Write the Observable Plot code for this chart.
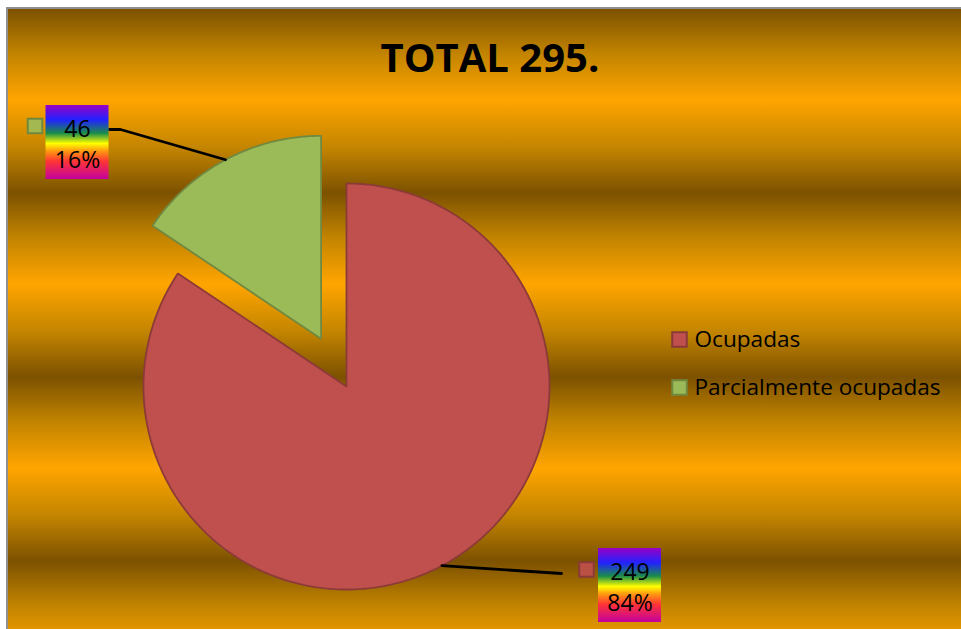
<!DOCTYPE html>
<html>
<head>
<meta charset="utf-8">
<script src="https://cdn.jsdelivr.net/npm/d3@7"></script>
<script src="https://cdn.jsdelivr.net/npm/@observablehq/plot@0.6"></script>
<style>
  html, body { margin: 0; padding: 0; background: #fff; overflow: hidden; }
  #wrap { position: relative; width: 961px; height: 629px; background: #fff; }
  #bg {
    position: absolute; left: 6px; top: 7px; right: 0; bottom: 0;
    border-left: 2px solid #8f8f8f; border-top: 2px solid #8f8f8f;
    background: repeating-linear-gradient(180deg, #7c5100 0px, #c48500 46px, #ffa500 91px, #c48500 138px, #7c5100 184px);
  }
  #chart { position: absolute; left: 0; top: 0; }
</style>
</head>
<body>
<div id="wrap"><div id="bg"></div><div id="chart"></div></div>
<script>
// ---- data ----
const categories = ["Ocupadas", "Parcialmente ocupadas"];
const values = [249, 46];
const percentLabels = ["84%", "16%"];
const titleText = "TOTAL 295.";

// ---- styles / layout (pixel offsets relative to pie centre, y up) ----
const sliceFill = ["#c0504d", "#9bbb59"];
const sliceStroke = ["#8c3a38", "#71893f"];
const radius = 203;
const explode = [0, 54];
const labelCenter = [[283.5, -199], [-269, 244]];
const labelBox = [63, 74];
const leaderExtra = [[[215, -187]], [[-226, 257], [-237, 257]]];
const markerPos = [[240, -183], [-311.5, 260.5]];
const legendKey = [[333, 47], [333, -1]];
const legendTextX = 348;

const pie = d3.pie().sort(null).value(d => d)(values);

const slices = pie.map((p, i) => {
  const mid = (p.startAngle + p.endAngle) / 2;
  const cx = explode[i] * Math.sin(mid), cy = explode[i] * Math.cos(mid);
  const pts = [{x: cx, y: cy}];
  const n = Math.max(8, Math.ceil((p.endAngle - p.startAngle) / 0.01));
  for (let k = 0; k <= n; k++) {
    const a = p.startAngle + (p.endAngle - p.startAngle) * k / n;
    pts.push({x: cx + radius * Math.sin(a), y: cy + radius * Math.cos(a)});
  }
  pts.push({x: cx, y: cy});
  const arcPt = {x: cx + radius * Math.sin(mid), y: cy + radius * Math.cos(mid)};
  const leader = [arcPt, ...leaderExtra[i].map(([x, y]) => ({x, y}))];
  return {i, pts, leader};
});

const labels = categories.map((c, i) => ({
  name: c,
  x: labelCenter[i][0], y: labelCenter[i][1],
  text: `${values[i]}\n${percentLabels[i]}`
}));
const markers = categories.map((c, i) => ({x: markerPos[i][0], y: markerPos[i][1], fill: sliceFill[i], stroke: sliceStroke[i]}));
const legend = categories.map((c, i) => ({name: c, x: legendKey[i][0], y: legendKey[i][1], fill: sliceFill[i], stroke: sliceStroke[i]}));

const marks = [];
slices.forEach(s => {
  marks.push(Plot.line(s.pts, {x: "x", y: "y", fill: sliceFill[s.i], stroke: sliceStroke[s.i], strokeWidth: 1.8, strokeLinejoin: "miter"}));
});
slices.forEach(s => {
  marks.push(Plot.line(s.leader, {x: "x", y: "y", stroke: "#000", strokeWidth: 2.8, strokeLinejoin: "miter"}));
});
marks.push(Plot.rect(labels, {
  x1: d => d.x - labelBox[0] / 2, x2: d => d.x + labelBox[0] / 2,
  y1: d => d.y - labelBox[1] / 2, y2: d => d.y + labelBox[1] / 2,
  fill: "url(#rainbow)"
}));
marks.push(Plot.text(labels, {x: "x", y: "y", text: "text", fontSize: 23, lineHeight: 1.34, fill: "#000"}));
markers.forEach(m => marks.push(Plot.dot([m], {x: "x", y: "y", symbol: "square", r: 8.2, fill: m.fill, stroke: m.stroke, strokeWidth: 2, fillOpacity: 0.9})));
legend.forEach(m => marks.push(Plot.dot([m], {x: "x", y: "y", symbol: "square", r: 8.2, fill: m.fill, stroke: m.stroke, strokeWidth: 2})));
marks.push(Plot.text(legend, {x: legendTextX, y: "y", text: "name", textAnchor: "start", fontSize: 22.6, fill: "#000"}));
marks.push(Plot.text([titleText], {frameAnchor: "top", dx: 9, dy: 43, lineAnchor: "top", fontSize: 40, fontWeight: "bold", fill: "#000"}));

const chart = Plot.plot({
  width: 961,
  height: 629,
  margin: 0,
  x: {domain: [-346, 615], range: [0, 961], axis: null},
  y: {domain: [-243, 386], range: [629, 0], axis: null},
  style: {background: "transparent", fontFamily: "'Open Sans', sans-serif", overflow: "visible"},
  marks
});

// rainbow gradient definition for data label boxes
const svg = d3.select(chart);
const defs = svg.insert("defs", ":first-child");
const g = defs.append("linearGradient").attr("id", "rainbow").attr("x1", 0).attr("y1", 0).attr("x2", 0).attr("y2", 1);
[[0, "#9a00c4"], [0.2, "#2222ff"], [0.38, "#1a8c4a"], [0.52, "#ffff00"], [0.62, "#ff9a10"], [0.76, "#ff3535"], [1, "#c4009e"]]
  .forEach(([o, c]) => g.append("stop").attr("offset", o).attr("stop-color", c));

document.getElementById("chart").appendChild(chart);
</script>
</body>
</html>
